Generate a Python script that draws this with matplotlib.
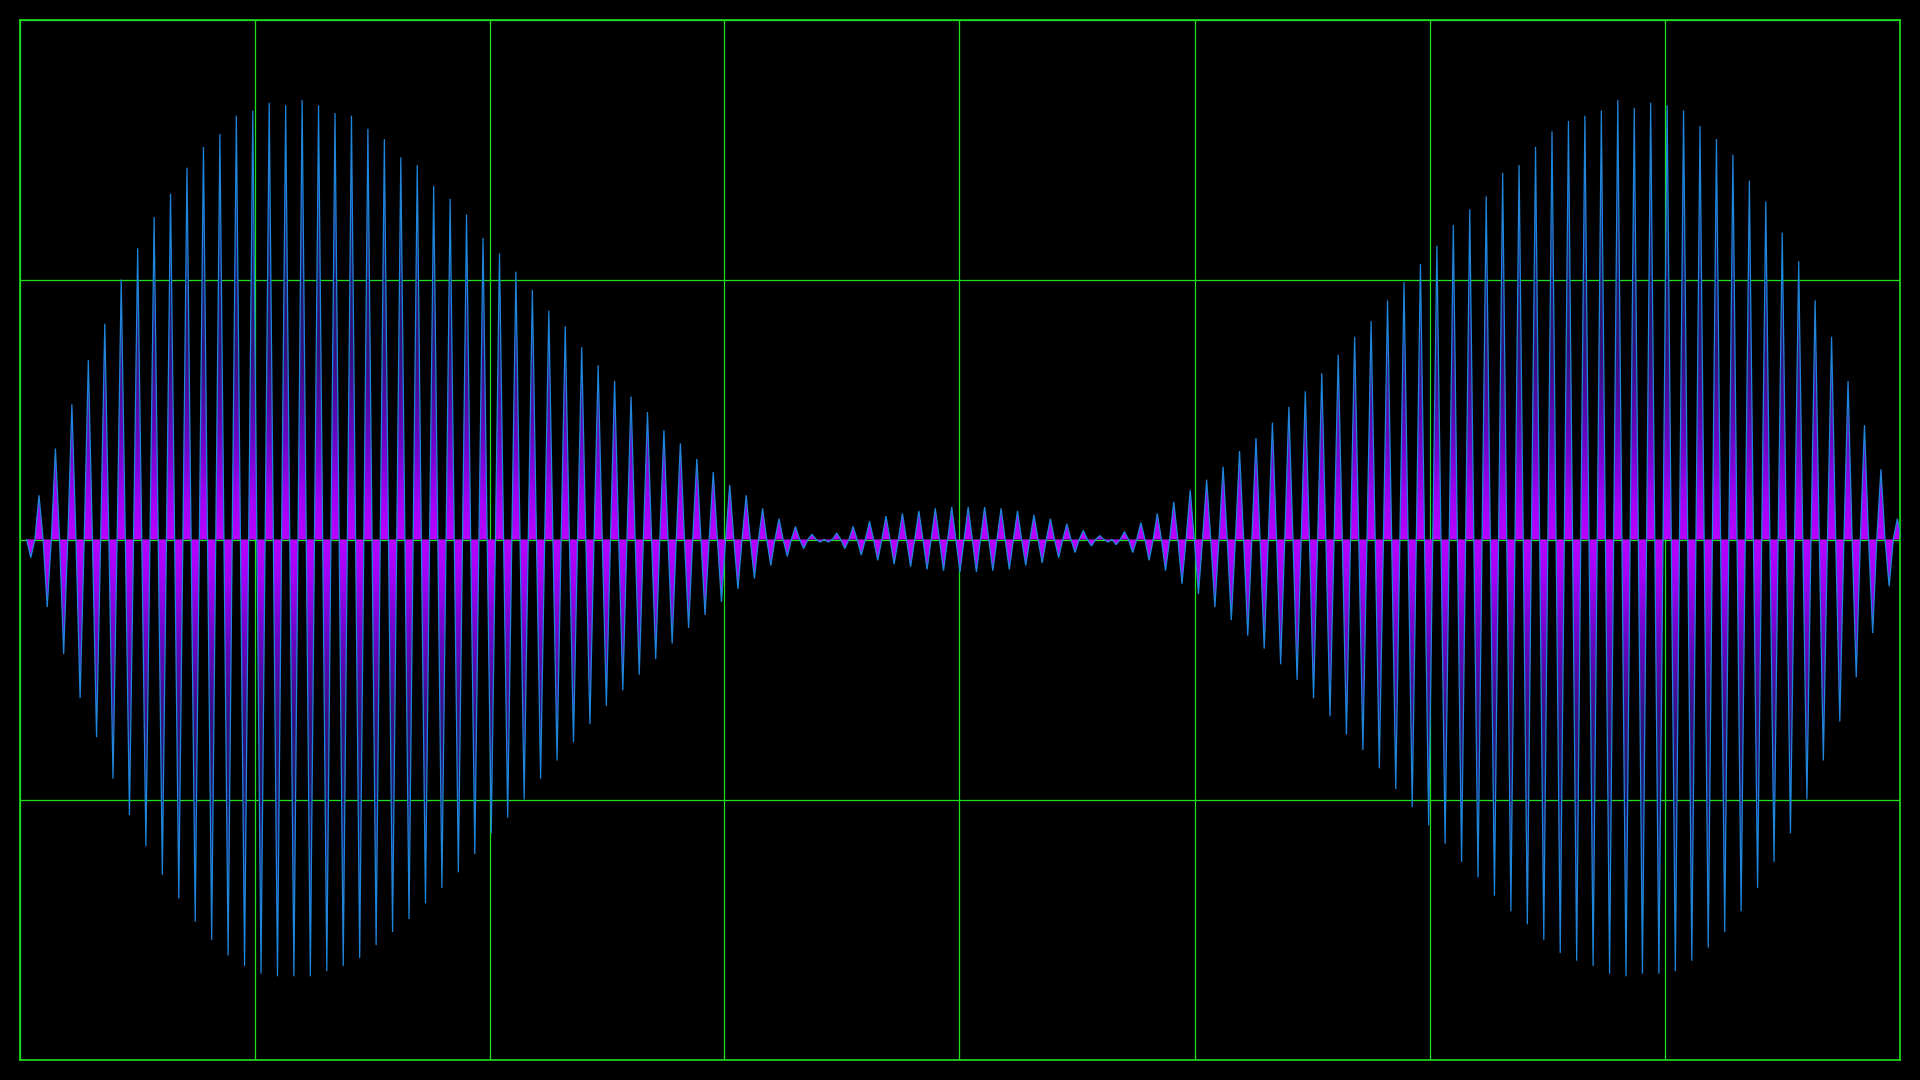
import numpy as np
import matplotlib
matplotlib.use("Agg")
import matplotlib.pyplot as plt
from matplotlib.path import Path
from matplotlib.colors import LinearSegmentedColormap

# ---- data: signed peak value of every half-cycle of the carrier (in screen divisions)
first_half_cycle = -1
half_cycle_peaks = [
    -0.07,
    0.17, -0.26, 0.35, -0.44, 0.52, -0.61, 0.69, -0.76, 0.83, -0.92,
    1.00, -1.06, 1.12, -1.18, 1.24, -1.29, 1.33, -1.38, 1.43, -1.47,
    1.51, -1.54, 1.56, -1.60, 1.63, -1.64, 1.65, -1.67, 1.68, -1.68,
    1.67, -1.68, 1.69, -1.68, 1.67, -1.66, 1.64, -1.64, 1.63, -1.61,
    1.58, -1.56, 1.54, -1.51, 1.47, -1.46, 1.44, -1.40, 1.36, -1.34,
    1.31, -1.28, 1.25, -1.21, 1.16, -1.13, 1.10, -1.07, 1.03, -1.00,
    0.96, -0.92, 0.88, -0.85, 0.82, -0.78, 0.74, -0.71, 0.67, -0.64,
    0.61, -0.58, 0.55, -0.52, 0.49, -0.46, 0.42, -0.40, 0.37, -0.34,
    0.31, -0.29, 0.26, -0.24, 0.21, -0.19, 0.17, -0.15, 0.12, -0.10,
    0.08, -0.065, 0.05, -0.035, 0.02, -0.01, -0.01, 0.025, -0.035, 0.05,
    -0.06, 0.07, -0.08, 0.09, -0.095, 0.10, -0.105, 0.11, -0.115, 0.12,
    -0.12, 0.125, -0.125, 0.125, -0.125, 0.125, -0.12, 0.12, -0.115, 0.11,
    -0.10, 0.095, -0.09, 0.08, -0.07, 0.06, -0.05, 0.035, -0.025, 0.015,
    -0.01, -0.02, 0.03, -0.05, 0.065, -0.08, 0.10, -0.12, 0.145, -0.17,
    0.19, -0.21, 0.23, -0.26, 0.28, -0.31, 0.34, -0.37, 0.39, -0.42,
    0.45, -0.48, 0.51, -0.54, 0.57, -0.61, 0.64, -0.68, 0.71, -0.75,
    0.78, -0.81, 0.84, -0.88, 0.92, -0.96, 0.99, -1.03, 1.06, -1.10,
    1.13, -1.17, 1.21, -1.24, 1.27, -1.30, 1.32, -1.37, 1.41, -1.43,
    1.44, -1.48, 1.51, -1.54, 1.57, -1.59, 1.61, -1.62, 1.63, -1.64,
    1.65, -1.67, 1.69, -1.68, 1.66, -1.67, 1.68, -1.67, 1.67, -1.66,
    1.65, -1.62, 1.59, -1.57, 1.54, -1.51, 1.48, -1.43, 1.38, -1.34,
    1.30, -1.24, 1.18, -1.13, 1.07, -1.00, 0.92, -0.85, 0.78, -0.70,
    0.61, -0.53, 0.44, -0.36, 0.27, -0.18, 0.08,
]
view_start, view_end = -2.37, 226.26     # visible time window (half-cycles)
y_divisions = [-2, -1, 0, 1, 2]
x_divisions = 8

# ---- styles
BG = "#000000"
GRID = "#1fe01f"
LINE = "#1f86dc"
grad_stops = [
    (0.00, "#b800ff"),
    (0.08, "#a400f6"),
    (0.22, "#6a06c4"),
    (0.40, "#34107e"),
    (0.58, "#201668"),
    (0.80, "#1c2676"),
    (1.00, "#1e3c8e"),
]

peaks = np.array(half_cycle_peaks, dtype=float)
k = np.arange(len(peaks)) + first_half_cycle
xs = np.empty(2 * len(peaks) + 1)
ys = np.zeros_like(xs)
xs[0:-1:2] = k - 0.5
xs[1::2] = k
ys[1::2] = peaks
xs[-1] = k[-1] + 0.5

fig = plt.figure(figsize=(19.2, 10.8), dpi=100, facecolor=BG)
ax = fig.add_axes([19.5 / 1920, 20.5 / 1080, 1880 / 1920, 1040 / 1080])
ax.set_facecolor(BG)
ax.set_xlim(view_start, view_end)
ax.set_ylim(y_divisions[0], y_divisions[-1])

# grid
ax.set_xticks(np.linspace(view_start, view_end, x_divisions + 1))
ax.set_yticks(y_divisions)
ax.tick_params(length=0, labelbottom=False, labelleft=False)
ax.grid(True, color=GRID, lw=0.9, zorder=0)
ax.set_axisbelow(True)
for s in ax.spines.values():
    s.set_color(GRID)
    s.set_linewidth(1.2)

# gradient fill under the waveform
cmap = LinearSegmentedColormap.from_list("wave", grad_stops)
yy = np.linspace(y_divisions[-1], y_divisions[0], 1000)
grad = cmap(np.clip(np.abs(yy) / 1.75, 0, 1))[:, None, :]
im = ax.imshow(grad, extent=[xs[0], xs[-1], y_divisions[0], y_divisions[-1]],
               aspect="auto", interpolation="bilinear", zorder=2)
verts = np.column_stack([np.r_[xs, xs[0]], np.r_[ys, 0.0]])
codes = np.full(len(verts), Path.LINETO)
codes[0] = Path.MOVETO
codes[-1] = Path.CLOSEPOLY
im.set_clip_path(Path(verts, codes), transform=ax.transData)

# waveform line
ax.plot(xs, ys, color=LINE, lw=0.9, zorder=3, solid_joinstyle="miter")

fig.savefig("out.png", dpi=100, facecolor=BG)
